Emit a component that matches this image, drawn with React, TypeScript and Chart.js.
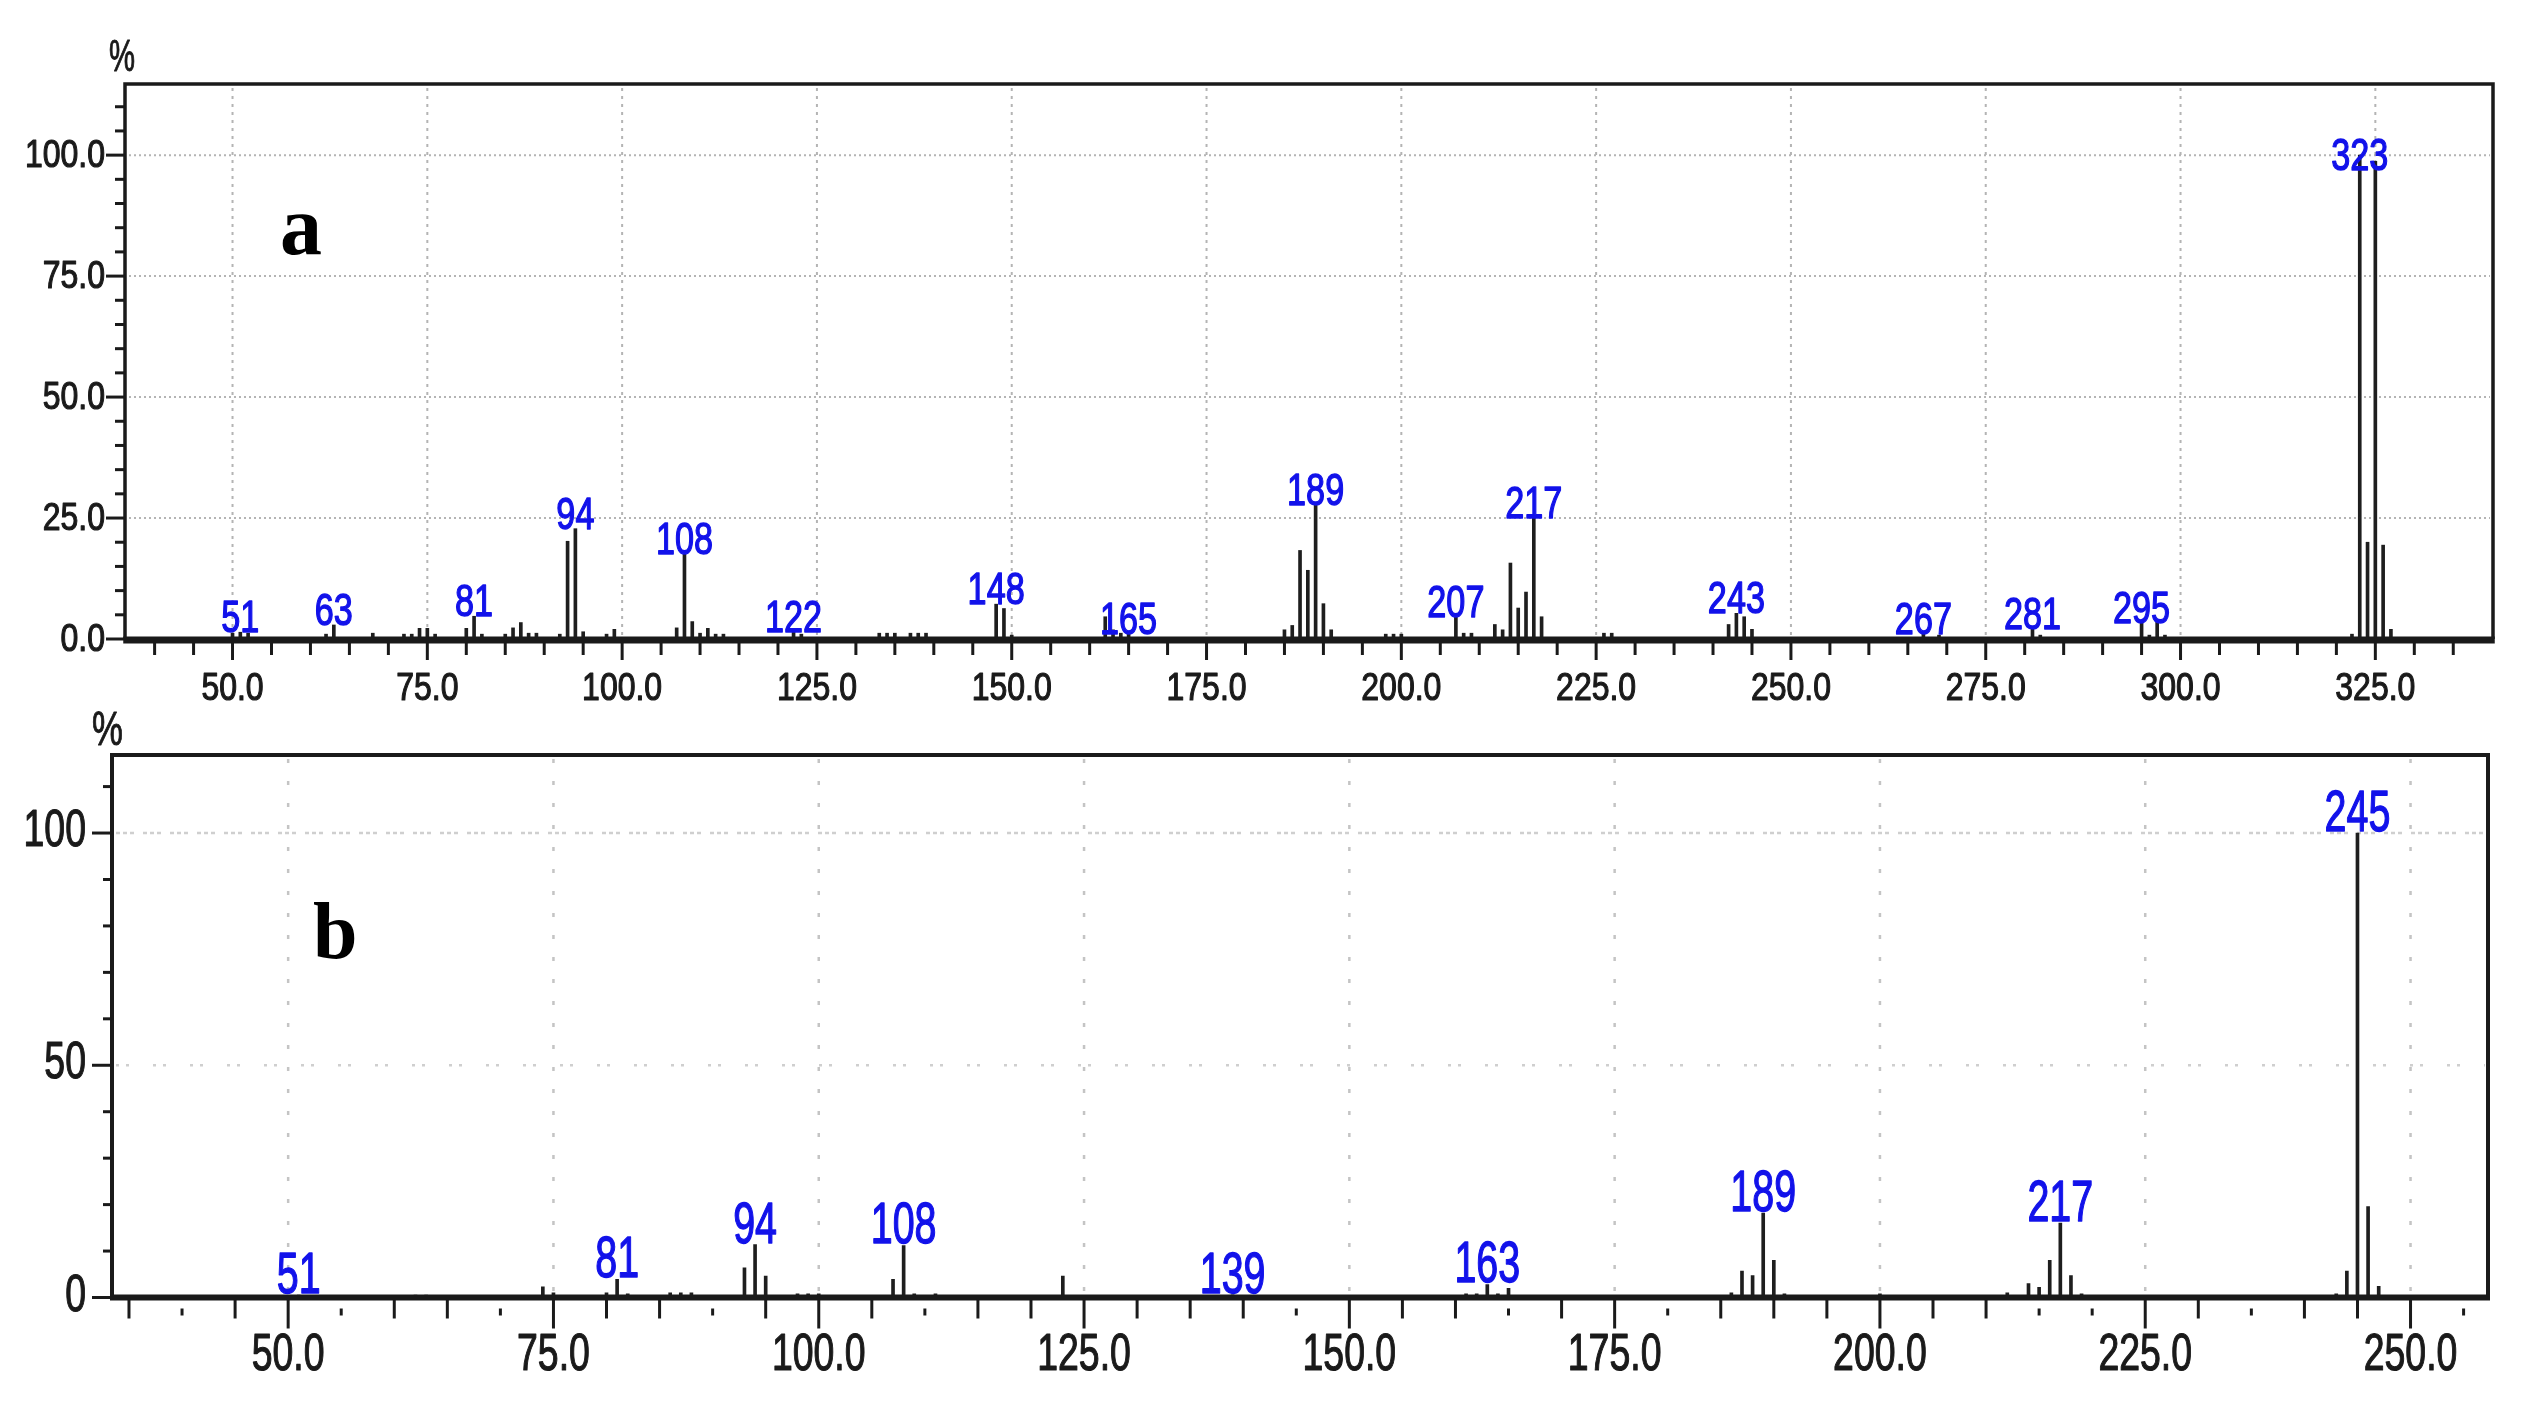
import React, { useEffect, useRef } from 'react';
import { Chart, registerables } from 'chart.js';

Chart.register(...registerables);

// ---------------- Panel a data ----------------
const A_MZ = [50, 51, 52, 62, 63, 68, 72, 73, 74, 75, 76, 80, 81, 82, 85, 86, 87, 88, 89, 92, 93, 94, 95, 98, 99,
  107, 108, 109, 110, 111, 112, 113, 122, 123, 133, 134, 135, 137, 138, 139, 148, 149, 150, 162, 163, 164, 165,
  185, 186, 187, 188, 189, 190, 191, 198, 199, 200, 207, 208, 209, 212, 213, 214, 215, 216, 217, 218, 226, 227,
  242, 243, 244, 245, 267, 269, 281, 282, 295, 296, 297, 298, 322, 323, 324, 325, 326, 327];
const A_INTENSITY = [1.2, 1.4, 1.2, 1.0, 2.9, 1.2, 1.0, 1.0, 2.2, 2.2, 1.0, 2.2, 4.7, 1.0, 1.0, 2.3, 3.4, 1.2, 1.2, 1.0, 20.2, 22.8, 1.5, 1.0, 2.0,
  2.3, 17.5, 3.6, 1.2, 2.2, 1.0, 1.0, 1.5, 1.0, 1.2, 1.2, 1.2, 1.2, 1.2, 1.2, 7.2, 6.3, 0.8, 4.6, 1.9, 1.2, 1.0,
  1.9, 2.8, 18.3, 14.2, 27.6, 7.3, 1.9, 1.0, 1.0, 1.0, 4.5, 1.2, 1.2, 3.0, 1.9, 15.7, 6.4, 9.7, 25.0, 4.6, 1.2, 1.2,
  3.0, 5.3, 4.6, 2.0, 1.1, 0.8, 2.0, 0.8, 3.4, 0.8, 3.9, 0.8, 1.0, 100, 20.0, 98.7, 19.4, 2.0];
const A_PEAK_LABELS = [51, 63, 81, 94, 108, 122, 148, 165, 189, 207, 217, 243, 267, 281, 295, 323];
const A_X_TICK_LABELS = [50, 75, 100, 125, 150, 175, 200, 225, 250, 275, 300, 325];
const A_Y_TICK_LABELS = [0, 25, 50, 75, 100];

// ---------------- Panel b data ----------------
const B_MZ = [51, 62, 63, 74, 75, 80, 81, 82, 86, 87, 88, 93, 94, 95, 98, 99, 100, 107, 108, 109, 111, 123, 139,
  161, 162, 163, 164, 165, 186, 187, 188, 189, 190, 191, 200, 212, 214, 215, 216, 217, 218, 219, 243, 244, 245, 246, 247];
const B_INTENSITY = [0.5, 0.5, 0.5, 2.3, 1.0, 1.0, 3.9, 0.8, 1.0, 1.0, 1.0, 6.4, 11.4, 4.6, 0.8, 0.8, 0.8, 3.9, 11.2, 0.8, 0.8, 4.6, 0.6,
  0.8, 0.8, 2.8, 0.8, 2.0, 1.0, 5.7, 4.7, 18.2, 8.0, 0.8, 0.8, 1.0, 3.0, 2.2, 8.0, 16.0, 4.7, 0.8, 0.8, 5.7, 100, 19.6, 2.4];
const B_PEAK_LABELS = [51, 81, 94, 108, 139, 163, 189, 217, 245];
const B_X_TICK_LABELS = [50, 75, 100, 125, 150, 175, 200, 225, 250];
const B_Y_TICK_LABELS = [0, 50, 100];
const B_SHORT_X_TICKS = [40, 55, 70, 90, 110, 145, 165, 180, 215, 220, 235, 255];

// ---------------- styles ----------------
const SANS = '"Liberation Sans", Arial, sans-serif';
const SERIF = '"Liberation Serif", "Times New Roman", serif';
const BLUE = '#1212ea';
const INK = '#1a1a1a';

interface PanelStyle {
  top: number; width: number; height: number;
  pad: { left: number; top: number; right: number; bottom: number };
  xMin: number; xMax: number; yMax: number;
  xMinorFrom: number; xMinorTo: number; xMinorStep: number;
  yMinorStep: number; yMinorTo: number;
  gridColor: string; gridWidth: number; vDash: number[]; hDash: (v: number) => number[]; hColor: string;
  frameWidth: number; axisWidth: number; axisOffset: number;
  yMajorFrom: number; yMinorFrom: number;
  xMajorLen: number; xMinorLen: number; shortTicks: number[]; shortFrom: number; shortTo: number;
  axisFont: number; axisSx: number; xLabelBaseline: number; yLabelRight: number; yLabelDy: number;
  yLabelText: (v: number) => string; xLabelText: (v: number) => string;
  peakFont: number; peakSx: number; peakGap: number; peakClamp: number;
  letter: string; letterX: number; letterBaseline: number; letterSize: number;
  pctX: number; pctBaseline: number; pctSize: number; pctSx: number;
}

function drawText(ctx: CanvasRenderingContext2D, s: string, x: number, y: number, size: number, sx: number,
  align: CanvasTextAlign, color: string, family = SANS, weight = 'normal', stroke = 0) {
  ctx.save();
  ctx.font = `${weight} ${size}px ${family}`;
  ctx.fillStyle = color;
  ctx.strokeStyle = color;
  ctx.textAlign = align;
  ctx.textBaseline = 'alphabetic';
  ctx.translate(x, y);
  ctx.scale(sx, 1);
  ctx.fillText(s, 0, 0);
  if (stroke > 0) {
    ctx.lineWidth = stroke;
    ctx.lineJoin = 'round';
    ctx.strokeText(s, 0, 0);
  }
  ctx.restore();
}

function makeDecor(p: PanelStyle, mz: number[], inten: number[], peakLabels: number[], xLabels: number[], yLabels: number[]) {
  return {
    id: 'decor',
    beforeDatasetsDraw(chart: any) {
      const { ctx, chartArea: ca, scales } = chart;
      const x = scales.x; const y = scales.y;
      ctx.save();
      ctx.strokeStyle = p.gridColor;
      ctx.lineWidth = p.gridWidth;
      ctx.setLineDash(p.vDash);
      for (const v of xLabels) {
        const px = x.getPixelForValue(v);
        ctx.beginPath(); ctx.moveTo(px, ca.top + 4); ctx.lineTo(px, ca.bottom); ctx.stroke();
      }
      ctx.strokeStyle = p.hColor;
      for (const v of yLabels) {
        if (v <= 0) continue;
        ctx.setLineDash(p.hDash(v));
        const py = y.getPixelForValue(v);
        ctx.beginPath(); ctx.moveTo(ca.left + 4, py); ctx.lineTo(ca.right - 3, py); ctx.stroke();
      }
      ctx.restore();
    },
    afterDatasetsDraw(chart: any) {
      const { ctx, chartArea: ca, scales } = chart;
      const x = scales.x; const y = scales.y;
      ctx.save();
      ctx.strokeStyle = INK;
      ctx.fillStyle = INK;
      // frame
      ctx.lineWidth = p.frameWidth;
      ctx.beginPath();
      ctx.moveTo(ca.left, ca.bottom); ctx.lineTo(ca.left, ca.top); ctx.lineTo(ca.right, ca.top); ctx.lineTo(ca.right, ca.bottom);
      ctx.stroke();
      // thick bottom axis
      ctx.fillRect(ca.left - p.frameWidth / 2, ca.bottom + p.axisOffset - p.axisWidth / 2, ca.right - ca.left + p.frameWidth, p.axisWidth);
      // x ticks
      ctx.lineWidth = 3;
      const axisBottom = ca.bottom + p.axisOffset + p.axisWidth / 2;
      for (let v = p.xMinorFrom; v <= p.xMinorTo + 1e-6; v += p.xMinorStep) {
        const px = x.getPixelForValue(v);
        const major = xLabels.includes(v);
        const short = p.shortTicks.includes(v);
        ctx.beginPath();
        if (short && !major) {
          ctx.moveTo(px, ca.bottom + p.shortFrom); ctx.lineTo(px, ca.bottom + p.shortTo);
        } else {
          ctx.moveTo(px, axisBottom - 1); ctx.lineTo(px, ca.bottom + (major ? p.xMajorLen : p.xMinorLen));
        }
        ctx.stroke();
      }
      // y ticks
      for (let v = 0; v <= p.yMinorTo + 1e-6; v += p.yMinorStep) {
        const py = y.getPixelForValue(v);
        const major = yLabels.includes(v);
        ctx.beginPath();
        ctx.moveTo(major ? p.yMajorFrom : p.yMinorFrom, py); ctx.lineTo(ca.left, py);
        ctx.stroke();
      }
      ctx.restore();
      // tick labels
      for (const v of xLabels) {
        drawText(ctx, p.xLabelText(v), x.getPixelForValue(v), p.xLabelBaseline, p.axisFont, p.axisSx, 'center', INK, SANS, 'normal', 1.2);
      }
      for (const v of yLabels) {
        drawText(ctx, p.yLabelText(v), p.yLabelRight, y.getPixelForValue(v) + p.yLabelDy, p.axisFont, p.axisSx, 'right', INK, SANS, 'normal', 1.2);
      }
      // peak labels
      for (const m of peakLabels) {
        const i = mz.indexOf(m);
        const val = i >= 0 ? inten[i] : 0;
        const py = y.getPixelForValue(Math.min(val, p.peakClamp)) - p.peakGap;
        drawText(ctx, String(m), x.getPixelForValue(m), py, p.peakFont, p.peakSx, 'center', BLUE, SANS, 'normal', 1.4);
      }
      // panel letter and unit
      drawText(ctx, p.letter, p.letterX, p.letterBaseline, p.letterSize, 1, 'left', '#000', SERIF, 'bold');
      drawText(ctx, '%', p.pctX, p.pctBaseline, p.pctSize, p.pctSx, 'center', INK, SANS, 'normal', 1);
    },
  };
}

const STYLE_A: PanelStyle = {
  top: 0, width: 2529, height: 720,
  pad: { left: 125, top: 84, right: 36, bottom: 81 },
  xMin: 36.2, xMax: 340.1, yMax: 114.7,
  xMinorFrom: 40, xMinorTo: 335, xMinorStep: 5,
  yMinorStep: 5, yMinorTo: 110,
  gridColor: '#b4b4b4', gridWidth: 2, vDash: [3, 5], hDash: () => [2, 3], hColor: '#b4b4b4',
  frameWidth: 3.5, axisWidth: 7, axisOffset: 1,
  yMajorFrom: 106, yMinorFrom: 115,
  xMajorLen: 21, xMinorLen: 16, shortTicks: [], shortFrom: 0, shortTo: 0,
  axisFont: 39, axisSx: 0.82, xLabelBaseline: 700, yLabelRight: 105, yLabelDy: 12,
  yLabelText: (v) => v.toFixed(1), xLabelText: (v) => v.toFixed(1),
  peakFont: 45, peakSx: 0.76, peakGap: 0, peakClamp: 96.9,
  letter: 'a', letterX: 280, letterBaseline: 254, letterSize: 84,
  pctX: 122, pctBaseline: 71, pctSize: 45, pctSx: 0.65,
};

const STYLE_B: PanelStyle = {
  top: 700, width: 2529, height: 705,
  pad: { left: 112, top: 55, right: 41, bottom: 107.5 },
  xMin: 33.4, xMax: 257.3, yMax: 116.8,
  xMinorFrom: 35, xMinorTo: 255, xMinorStep: 5,
  yMinorStep: 10, yMinorTo: 110,
  gridColor: '#c4c4c4', gridWidth: 2.5, vDash: [4, 18],
  hDash: (v) => (v === 100 ? [4, 3, 4, 3, 4, 9] : [3, 7, 3, 24]), hColor: '#cfcfcf',
  frameWidth: 4, axisWidth: 6, axisOffset: 0,
  yMajorFrom: 92, yMinorFrom: 103,
  xMajorLen: 31, xMinorLen: 21, shortTicks: B_SHORT_X_TICKS, shortFrom: 11, shortTo: 18,
  axisFont: 52, axisSx: 0.72, xLabelBaseline: 670, yLabelRight: 86, yLabelDy: 13,
  yLabelText: (v) => String(v), xLabelText: (v) => v.toFixed(1),
  peakFont: 58, peakSx: 0.68, peakGap: 2, peakClamp: Infinity,
  letter: 'b', letterX: 313, letterBaseline: 258, letterSize: 80,
  pctX: 107.5, pctBaseline: 45, pctSize: 49, pctSx: 0.71,
};

function Panel(props: { style: PanelStyle; mz: number[]; inten: number[]; peakLabels: number[]; xLabels: number[]; yLabels: number[] }) {
  const ref = useRef<HTMLCanvasElement | null>(null);
  const { style: p, mz, inten, peakLabels, xLabels, yLabels } = props;
  useEffect(() => {
    if (!ref.current) return;
    const chart = new Chart(ref.current, {
      type: 'bar',
      data: {
        datasets: [{
          data: mz.map((m, i) => ({ x: m, y: inten[i] })),
          backgroundColor: '#1e1e1e',
          borderWidth: 0,
          barThickness: 3,
        }],
      },
      options: {
        animation: false,
        responsive: false,
        maintainAspectRatio: false,
        devicePixelRatio: 1,
        layout: { padding: p.pad },
        plugins: { legend: { display: false }, tooltip: { enabled: false } },
        scales: {
          x: { type: 'linear', min: p.xMin, max: p.xMax, offset: false, display: false },
          y: { type: 'linear', min: 0, max: p.yMax, display: false },
        },
      } as any,
      plugins: [makeDecor(p, mz, inten, peakLabels, xLabels, yLabels) as any],
    });
    return () => chart.destroy();
  }, []);
  return (
    <canvas
      ref={ref}
      width={p.width}
      height={p.height}
      style={{ position: 'absolute', left: 0, top: p.top, width: p.width, height: p.height }}
    />
  );
}

export default function App() {
  useEffect(() => {
    document.body.style.margin = '0';
    document.body.style.overflow = 'hidden';
  }, []);
  return (
    <div style={{ position: 'absolute', left: 0, top: 0, width: 2529, height: 1405, background: '#ffffff', overflow: 'hidden' }}>
      <Panel style={STYLE_A} mz={A_MZ} inten={A_INTENSITY} peakLabels={A_PEAK_LABELS} xLabels={A_X_TICK_LABELS} yLabels={A_Y_TICK_LABELS} />
      <Panel style={STYLE_B} mz={B_MZ} inten={B_INTENSITY} peakLabels={B_PEAK_LABELS} xLabels={B_X_TICK_LABELS} yLabels={B_Y_TICK_LABELS} />
    </div>
  );
}
